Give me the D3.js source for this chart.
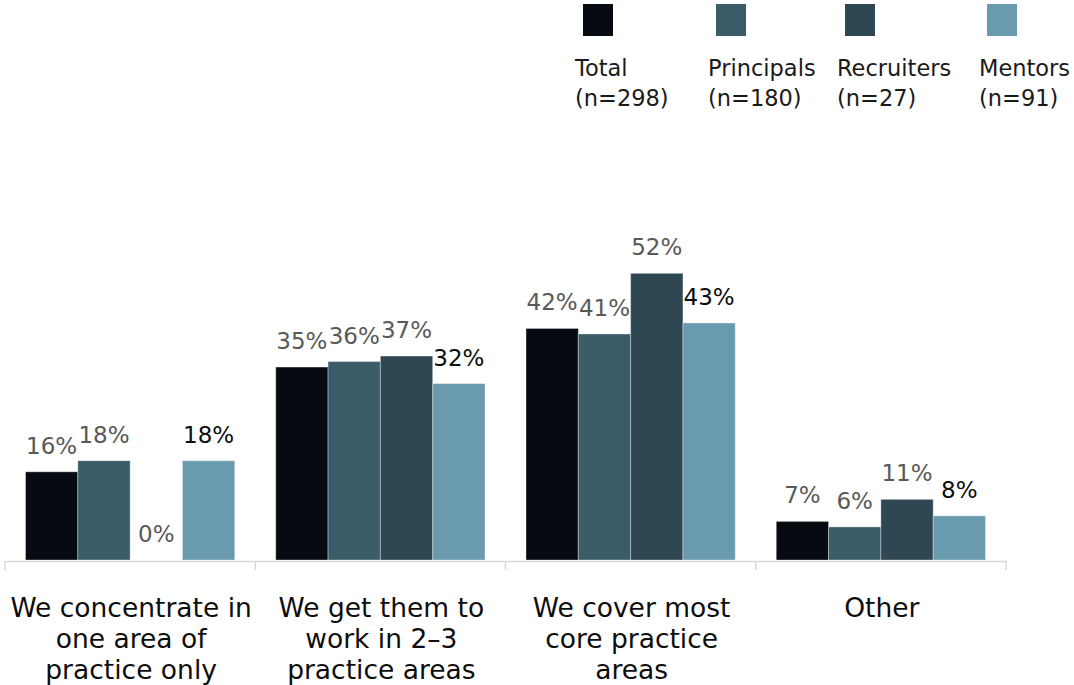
<!DOCTYPE html>
<html>
<head>
<meta charset="utf-8">
<script src="https://cdn.jsdelivr.net/npm/d3@7"></script>
<style>
  html, body { margin: 0; padding: 0; background: #ffffff; }
  svg { display: block; font-family: "DejaVu Sans", sans-serif; }
</style>
</head>
<body>
<svg id="chart" width="1074" height="685"></svg>
<script>
// Survey categories (wrapped label lines for the x axis)
const categories = [
  "We concentrate in one area of practice only",
  "We get them to work in 2–3 practice areas",
  "We cover most core practice areas",
  "Other"
];
const categoryLines = [
  ["We concentrate in", "one area of", "practice only"],
  ["We get them to", "work in 2–3", "practice areas"],
  ["We cover most", "core practice", "areas"],
  ["Other"]
];

// Respondent groups
const seriesNames = ["Total", "Principals", "Recruiters", "Mentors"];
const seriesCounts = ["(n=298)", "(n=180)", "(n=27)", "(n=91)"];

// Percentage of respondents per category, one array per group
const totalValues      = [16, 35, 42, 7];
const principalsValues = [18, 36, 41, 6];
const recruitersValues = [0, 37, 52, 11];
const mentorsValues    = [18, 32, 43, 8];

const seriesValues = [totalValues, principalsValues, recruitersValues, mentorsValues];
const colors = ["#050b10", "#3a5c68", "#2f4753", "#6a9aad"];
const labelColors = ["#595959", "#595959", "#595959", "#0d0d0d"];

const svg = d3.select("#chart");

const baseline = 560;
const pxPerPct = 5.513;
const y = d3.scaleLinear().domain([0, 60]).range([baseline, baseline - 60 * pxPerPct]);
const x0 = d3.scaleBand().domain(categories).range([5, 1006]).padding(0);
const x1 = d3.scaleBand().domain(seriesNames).range([20.5, x0.bandwidth() - 20.5]).padding(0);

// Bars
const groups = svg.append("g").selectAll("g")
  .data(categories)
  .join("g")
  .attr("transform", d => `translate(${x0(d)},0)`);

groups.selectAll("rect")
  .data((c, i) => seriesNames.map((s, j) => ({ s, j, v: seriesValues[j][i] })))
  .join("rect")
  .attr("x", d => x1(d.s))
  .attr("y", d => y(d.v))
  .attr("width", x1.bandwidth())
  .attr("height", d => baseline - y(d.v))
  .attr("fill", d => colors[d.j])
  .attr("stroke", d => d.v > 0 ? "#ffffff" : "none")
  .attr("stroke-opacity", 0.35)
  .attr("stroke-width", 1);

// Value labels
groups.selectAll("text.val")
  .data((c, i) => seriesNames.map((s, j) => ({ s, j, v: seriesValues[j][i] })))
  .join("text")
  .attr("class", "val")
  .attr("x", d => x1(d.s) + x1.bandwidth() / 2)
  .attr("y", d => y(d.v) - 18)
  .attr("text-anchor", "middle")
  .attr("font-size", 23)
  .attr("fill", d => labelColors[d.j])
  .text(d => d.v + "%");

// Category axis
const axis = d3.axisBottom(x0).tickSize(0).tickFormat("");
const axisG = svg.append("g").attr("transform", `translate(0,${baseline + 1})`).call(axis);
axisG.select(".domain").attr("stroke", "#d9d9d9").attr("stroke-width", 1.5);
const boundaries = categories.map(c => x0(c)).concat([x0.range()[1]]);
axisG.selectAll("line.bound")
  .data(boundaries)
  .join("line")
  .attr("class", "bound")
  .attr("x1", d => d).attr("x2", d => d)
  .attr("y1", 0).attr("y2", 9)
  .attr("stroke", "#d9d9d9")
  .attr("stroke-width", 1.5);

// Category labels
const catLabels = svg.append("g").selectAll("text")
  .data(categories)
  .join("text")
  .attr("text-anchor", "middle")
  .attr("font-size", 26.5)
  .attr("fill", "#0d0d0d")
  .attr("x", d => x0(d) + x0.bandwidth() / 2 + 1)
  .attr("y", 617);
catLabels.selectAll("tspan")
  .data((d, i) => categoryLines[i])
  .join("tspan")
  .attr("x", function () { return this.parentNode.getAttribute("x"); })
  .attr("dy", (d, k) => k === 0 ? 0 : 31)
  .text(d => d);

// Legend
const legendX = [575, 708, 837, 979];
const legend = svg.append("g").selectAll("g")
  .data(seriesNames)
  .join("g")
  .attr("transform", (d, i) => `translate(${legendX[i]},0)`);
legend.append("rect")
  .attr("x", 8).attr("y", 4)
  .attr("width", 30).attr("height", 32)
  .attr("fill", (d, i) => colors[i]);
legend.append("text")
  .attr("x", 0).attr("y", 76)
  .attr("font-size", 22.5)
  .attr("fill", "#1a1a1a")
  .text(d => d);
legend.append("text")
  .attr("x", 0).attr("y", 106)
  .attr("font-size", 22.5)
  .attr("fill", "#1a1a1a")
  .text((d, i) => seriesCounts[i]);
</script>
</body>
</html>
